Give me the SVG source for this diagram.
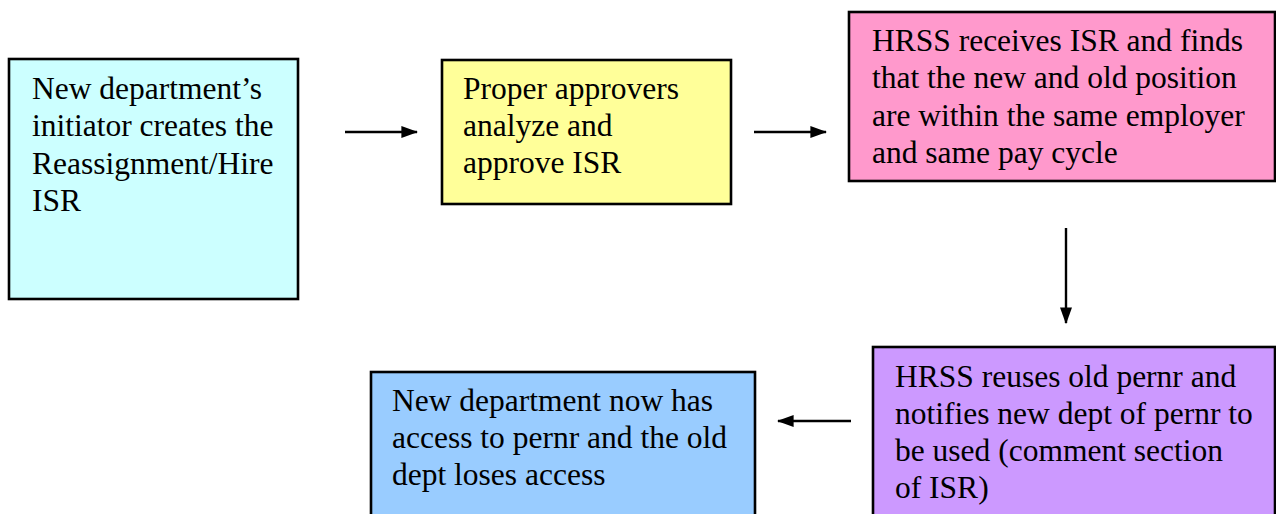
<svg xmlns="http://www.w3.org/2000/svg" width="1276" height="514" viewBox="0 0 1276 514">
<style>
.box{stroke:#000;stroke-width:2.6}
.t{font-family:"Liberation Serif","Times New Roman",serif;font-size:31.5px;fill:#000}
.c{stroke:#000;stroke-width:2.4;fill:none}
</style>
<defs>
<marker id="ah" markerWidth="7" markerHeight="5" refX="6.5" refY="2.5" orient="auto" markerUnits="strokeWidth">
<path d="M0,0 L7,2.5 L0,5 Z" fill="#000"/>
</marker>
</defs>
<rect width="1276" height="514" fill="#fff"/>
<g id="n1">
<rect class="box" x="9" y="59" width="289" height="240" fill="#CCFFFF"/>
<text class="t"><tspan x="32" y="99">New department’s</tspan><tspan x="32" y="136">initiator creates the</tspan><tspan x="32" y="174">Reassignment/Hire</tspan><tspan x="32" y="211">ISR</tspan></text>
</g>
<g id="n2">
<rect class="box" x="442" y="60" width="289" height="144" fill="#FFFF99"/>
<text class="t"><tspan x="463" y="99">Proper approvers</tspan><tspan x="463" y="136">analyze and</tspan><tspan x="463" y="173">approve ISR</tspan></text>
</g>
<g id="n3">
<rect class="box" x="849" y="12" width="426" height="169" fill="#FF99CC"/>
<text class="t"><tspan x="872" y="51">HRSS receives ISR and finds</tspan><tspan x="872" y="88">that the new and old position</tspan><tspan x="872" y="126">are within the same employer</tspan><tspan x="872" y="163">and same pay cycle</tspan></text>
</g>
<g id="n4">
<rect class="box" x="873" y="347" width="402" height="180" fill="#CC99FF"/>
<text class="t"><tspan x="895" y="387">HRSS reuses old pernr and</tspan><tspan x="895" y="424">notifies new dept of pernr to</tspan><tspan x="895" y="461">be used (comment section</tspan><tspan x="895" y="498">of ISR)</tspan></text>
</g>
<g id="n5">
<rect class="box" x="371" y="372" width="384" height="160" fill="#99CCFF"/>
<text class="t"><tspan x="392" y="411">New department now has</tspan><tspan x="392" y="448">access to pernr and the old</tspan><tspan x="392" y="485">dept loses access</tspan></text>
</g>
<g id="connectors">
<line class="c" x1="345" y1="132" x2="417" y2="132" marker-end="url(#ah)"/>
<line class="c" x1="754" y1="132" x2="826" y2="132" marker-end="url(#ah)"/>
<line class="c" x1="1066" y1="228" x2="1066" y2="323" marker-end="url(#ah)"/>
<line class="c" x1="851" y1="421" x2="778" y2="421" marker-end="url(#ah)"/>
</g>
</svg>
